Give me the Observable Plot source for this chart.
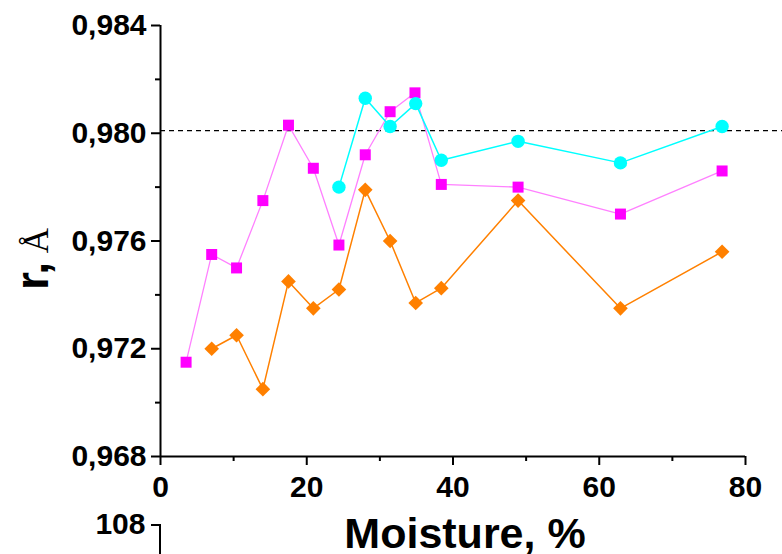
<!DOCTYPE html>
<html>
<head>
<meta charset="utf-8">
<script src="https://cdn.jsdelivr.net/npm/d3@7"></script>
<script src="https://cdn.jsdelivr.net/npm/@observablehq/plot@0.6"></script>
<style>
  html, body { margin: 0; padding: 0; background: #fff; }
  #wrap { position: relative; width: 782px; height: 554px; overflow: hidden; }
  #next { position: absolute; left: 0; top: 0; width: 782px; height: 554px; pointer-events: none; }
</style>
</head>
<body>
<div id="wrap"></div>
<script>
// Moisture (%) and ionic radius r (Å) for three series
const xMagenta = [3.5, 7.0, 10.4, 14.0, 17.5, 20.9, 24.4, 28.0, 31.4, 34.8, 38.4, 48.9, 62.9, 76.8];
const rMagenta = [0.9715, 0.9755, 0.9750, 0.9775, 0.9803, 0.9787, 0.97585, 0.9792, 0.9808, 0.9815, 0.9781, 0.9780, 0.9770, 0.9786];
const xCyan = [24.4, 28.0, 31.4, 34.9, 38.4, 48.9, 62.9, 76.8];
const rCyan = [0.9780, 0.9813, 0.98025, 0.9811, 0.9790, 0.9797, 0.9789, 0.98025];
const xOrange = [7.0, 10.4, 14.0, 17.5, 20.9, 24.4, 28.0, 31.4, 34.9, 38.4, 48.9, 62.9, 76.8];
const rOrange = [0.9720, 0.9725, 0.9705, 0.9745, 0.9735, 0.9742, 0.9779, 0.9760, 0.9737, 0.97425, 0.9775, 0.9735, 0.9756];
const refLine = [0.9801];
const xTicks = [0, 20, 40, 60, 80];
const xMinor = [10, 30, 50, 70];
const yTicks = [0.968, 0.972, 0.976, 0.980, 0.984];
const yMinor = [0.970, 0.974, 0.978, 0.982];
const xLabel = "Moisture, %";
const yLabelMain = "r,";
const yLabelUnit = "Å";
const yLabel = yLabelMain + " " + yLabelUnit;
const nextLabel = "108";

const toRows = (xs, ys) => xs.map((x, i) => ({x, y: ys[i]}));
const magenta = toRows(xMagenta, rMagenta);
const cyan = toRows(xCyan, rCyan);
const orange = toRows(xOrange, rOrange);
const fmt = d => d3.format(".3f")(d).replace(".", ",");

const chart = Plot.plot({
  width: 782,
  height: 554,
  marginLeft: 160,
  marginRight: 37,
  marginTop: 25,
  marginBottom: 98,
  x: {domain: [0, 80]},
  y: {domain: [0.968, 0.984]},
  style: {fontFamily: "'Liberation Sans', Arial, sans-serif", fontWeight: "bold", fontSize: "30px", color: "#000", background: "#fff"},
  marks: [
    Plot.ruleY(refLine, {x1: 0, x2: 86, stroke: "#000", strokeWidth: 1.3, strokeDasharray: "5,4"}),
    Plot.axisY({ticks: yTicks, tickSize: 9, tickPadding: 5, tickFormat: fmt, strokeWidth: 2, label: null}),
    Plot.axisY({ticks: yMinor, tickSize: 5, tickFormat: () => "", strokeWidth: 2, label: null}),
    Plot.axisX({ticks: xTicks, tickSize: 9, tickPadding: 10, tickFormat: d3.format("d"), strokeWidth: 2, label: null}),
    Plot.axisX({ticks: xMinor, tickSize: 5, tickFormat: () => "", strokeWidth: 2, label: null}),
    Plot.ruleX([0], {y1: 0.968, y2: 0.984, stroke: "#000", strokeWidth: 2}),
    Plot.ruleY([0.968], {x1: 0, x2: 80, stroke: "#000", strokeWidth: 2}),
    Plot.line(orange, {x: "x", y: "y", stroke: "#ff8000", strokeWidth: 1.5}),
    Plot.dot(orange, {x: "x", y: "y", symbol: "diamond2", r: 6.6, fill: "#ff8000", stroke: "none"}),
    Plot.line(magenta, {x: "x", y: "y", stroke: "#ff80ff", strokeWidth: 1.3}),
    Plot.dot(magenta, {x: "x", y: "y", symbol: "square", r: 6.2, fill: "#ff00ff", stroke: "none"}),
    Plot.line(cyan, {x: "x", y: "y", stroke: "#00ffff", strokeWidth: 1.5}),
    Plot.dot(cyan, {x: "x", y: "y", symbol: "circle", r: 6.7, fill: "#00ffff", stroke: "none"}),
    Plot.text([xLabel], {frameAnchor: "bottom", dx: 12, dy: 91, lineAnchor: "bottom", fontSize: 43, fontWeight: "bold", fill: "#000"}),
    Plot.text([yLabel], {frameAnchor: "left", textAnchor: "middle", dx: -127, dy: 18, rotate: -90, fontSize: 46, fontWeight: "bold", fill: "#000"}),
    Plot.text([nextLabel], {frameAnchor: "bottom-left", dx: -15, dy: 77, textAnchor: "end", lineAnchor: "bottom", fontSize: 30, fontWeight: "bold", fill: "#000"})
  ]
});
document.getElementById("wrap").appendChild(chart);

// style the unit (Å) of the y label in a lighter serif face, as in the reference
d3.select(chart).selectAll("text").filter(function() { return this.textContent === yLabel; }).each(function() {
  const t = d3.select(this);
  t.text(null);
  t.append("tspan").text(yLabelMain);
  t.append("tspan").attr("font-family", "'Liberation Serif', 'Times New Roman', serif").attr("font-weight", "normal").attr("font-size", 35).text(" " + yLabelUnit);
});

// stub of the next panel's axis (tick and spine) beside the label "108"
const ov = d3.select("#wrap").append("svg").attr("id", "next").attr("width", 782).attr("height", 554);
ov.append("line").attr("x1", 151).attr("x2", 160).attr("y1", 525).attr("y2", 525).attr("stroke", "#000").attr("stroke-width", 2);
ov.append("line").attr("x1", 160).attr("x2", 160).attr("y1", 524).attr("y2", 554).attr("stroke", "#000").attr("stroke-width", 2);
</script>
</body>
</html>
